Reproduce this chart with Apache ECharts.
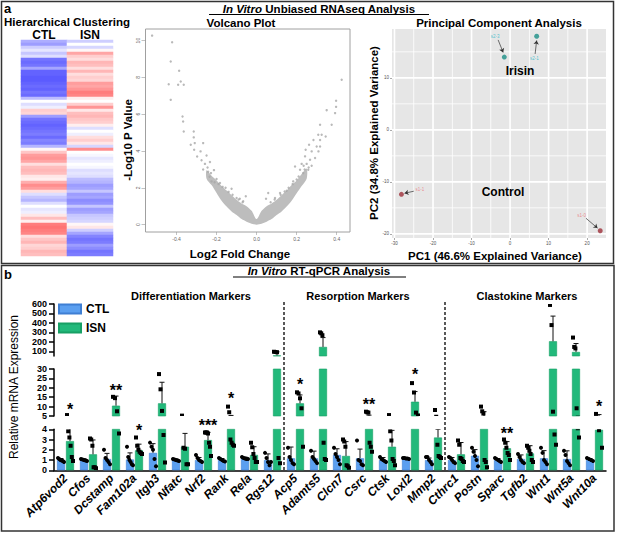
<!DOCTYPE html>
<html>
<head>
<meta charset="utf-8">
<script src="https://cdn.jsdelivr.net/npm/echarts@6/dist/echarts.min.js"></script>
<style>
  html, body { margin: 0; padding: 0; background: #fff; }
  #main { width: 617px; height: 534px; }
</style>
</head>
<body>
<div id="main"></div>
<script>
const FONT = 'Liberation Sans, Arial, sans-serif'

// ---- a: hierarchical clustering (row z-scores, top to bottom)
const heatCols = ['CTL', 'ISN']
const heatCTL = [-0.5, -0.6, -0.3, -0.15, -0.35, -0.2, -0.85, -0.9, -0.85, -0.55,
  -0.95, -0.95, -1, -1, -0.95, -0.9, -0.95, -0.85, -0.9, -0.4,
  0, -0.2, -0.1, 0.3, 0.25, -0.6, -0.85, -0.9, -0.95, -0.9,
  -0.85, -0.8, -0.9, -0.75, -0.8, -0.45, 0.05, 0.35, 0.6, 0.65,
  0.55, 0.2, 0.4, 0.45, 0.4, 0.15, 0.1, 0.5, 0.7, 0.6,
  0.2, -0.2, -0.35, -0.45, -0.2, 0, -0.15, -0.1, 0.15, 0.4,
  0.1, 0.8, 0.85, 0.8, 0.75, 0.2, 0.35, 0.45, 0.25, 0.3,
  0.45, 0.4]
const heatISN = [-0.3, 0, -0.25, 0.05, 0.55, 0.3, 0.2, 0.45, 0.4, 0.2,
  0.45, 0.2, 0.3, 0.25, 0.6, 0.55, 0.65, 0.8, 0.75, 0.1,
  0, 0.3, 0.65, 0.15, 0.4, 0.45, 0.35, 0.3, 0.1, -0.2,
  0, -0.1, 0.2, 0.3, 0.15, -0.25, 0.7, 0, -0.05, -0.15,
  -0.1, 0, -0.05, -0.2, -0.15, -0.2, -0.4, -0.45, -0.6, -0.55,
  -0.35, -0.6, -0.55, -0.7, -0.65, -0.35, -0.6, -0.55, -0.35, -0.3,
  -0.25, 0.05, 0.15, -0.3, -0.55, -0.75, -0.85, -0.8, -0.6, -0.7,
  -0.85, -0.8]

// ---- a: volcano plot
const volcanoXTicks = [-0.4, -0.2, 0, 0.2, 0.4]
const volcanoYTicks = [0, 2, 4, 6, 8, 10]
// dense cloud outline
const bandX = [-0.25, -0.225, -0.2, -0.175, -0.15, -0.125, -0.1, -0.075, -0.05, -0.025, 0,
  0.025, 0.05, 0.075, 0.1, 0.125, 0.15, 0.175, 0.2, 0.225, 0.25]
const bandTop = [2.95, 2.65, 2.4, 2.1, 1.85, 1.6, 1.35, 1.15, 1.0, 0.75, 0.3,
  0.75, 1.0, 1.15, 1.35, 1.6, 1.85, 2.15, 2.4, 2.75, 3.05]
const bandBottom = [2.5, 2.15, 1.72, 1.3, 0.98, 0.72, 0.52, 0.3, 0.16, 0.05, 0,
  0.05, 0.16, 0.3, 0.52, 0.72, 0.98, 1.3, 1.7, 2.1, 2.5]
const volcanoPoints = [
  [-0.522, 10.27], [-0.422, 9.91], [-0.429, 8.86], [-0.387, 8.36], [-0.439, 7.63], [-0.392, 7.6],
  [-0.379, 7.78], [-0.364, 7.6], [-0.429, 6.78], [-0.37, 5.88], [-0.367, 5.6], [-0.364, 5.06],
  [-0.314, 5.06], [-0.314, 4.74], [-0.329, 4.34], [-0.309, 4.43], [-0.267, 4.43], [-0.312, 4.07],
  [-0.28, 3.98], [-0.297, 3.7], [-0.25, 3.76], [-0.275, 3.5], [-0.258, 3.3], [-0.233, 3.4],
  [-0.267, 3.0], [-0.242, 2.87], [-0.213, 2.96], [-0.2, 2.48], [-0.225, 2.35], [-0.183, 2.26],
  [-0.125, 1.95], [-0.084, 1.41], [-0.054, 1.54], [-0.067, 1.27],
  [-0.235, 2.6], [-0.21, 2.3], [-0.19, 2.2], [-0.17, 2.05], [-0.155, 2.0], [-0.14, 1.78],
  [-0.12, 1.62], [-0.1, 1.45], [-0.09, 1.36], [-0.07, 1.22], [-0.245, 3.1], [-0.228, 2.8],
  [0.35, 6.22], [0.425, 7.87], [0.397, 6.73], [0.397, 6.4], [0.392, 6.06], [0.375, 5.43],
  [0.317, 5.43], [0.308, 4.88], [0.325, 4.88], [0.345, 4.79], [0.317, 4.6], [0.284, 4.6],
  [0.262, 4.34], [0.3, 4.25], [0.317, 4.25], [0.245, 4.07], [0.275, 3.98], [0.309, 3.98],
  [0.242, 3.71], [0.292, 3.62], [0.267, 3.53], [0.225, 3.3], [0.192, 3.16], [0.25, 3.3],
  [0.275, 3.2], [0.258, 2.98], [0.233, 2.8], [0.217, 2.98], [0.183, 2.35],
  [0.058, 1.72], [0.047, 1.41], [0.092, 1.45], [0.117, 1.72], [0.15, 1.84],
  [0.07, 1.22], [0.09, 1.36], [0.12, 1.62], [0.14, 1.8], [0.16, 2.0], [0.18, 2.2],
  [0.2, 2.45], [0.21, 2.62], [0.24, 3.0], [0.26, 3.1], [0.235, 3.2]
]

// ---- a: PCA
const pcaXRange = [-30.65, 24.9]
const pcaYRange = [-20.8, 19.4]
const pcaXMajor = [-30, -20, -10, 0, 10, 20]
const pcaXMinor = [-25, -15, -5, 5, 15]
const pcaYMajor = [-20, -10, 0, 10]
const pcaYMinor = [-15, -5, 5, 15]
const pcaIrisin = [[-1.5, 14.0], [6.9, 18.0]]
const pcaControl = [[-28.2, -12.4], [23.4, -19.4]]
const pcaLabels = [[-3.9, 17.9, 's2-3'], [6.3, 13.8, 's2-1'], [-23.4, -11.5, 's1-1'], [18.6, -16.4, 's1-0']]
const pcaArrows = [
  [[-3.1, 17.3], [-1.8, 14.9]],
  [[6.5, 14.6], [6.9, 17.2]],
  [[-25.0, -11.8], [-27.4, -12.2]],
  [[19.7, -17.0], [22.7, -18.9]]
]

// ---- b: RT-qPCR
const genes = ['Atp6vod2', 'Cfos', 'Dcstamp', 'Fam102a', 'Itgb3', 'Nfatc', 'Nrf2', 'Rank', 'Rela', 'Rgs12',
  'Acp5', 'Adamts5', 'Clcn7', 'Csrc', 'Ctsk', 'Loxl2', 'Mmp2',
  'Cthrc1', 'Postn', 'Sparc', 'Tgfb2', 'Wnt1', 'Wnt5a', 'Wnt10a']
const ctlMean = [1.0, 1.0, 1.1, 1.05, 1.7, 1.0, 1.0, 1.0, 1.17, 1.0, 1.17, 1.17, 1.5, 1.17, 1.0, 1.17, 1.0,
  1.0, 1.42, 1.0, 1.1, 1.17, 1.1, 1.0]
const ctlErr = [0.15, 0.12, 0.55, 0.65, 0.9, 0.1, 0.25, 0.15, 0.12, 0.6, 1.1, 0.7, 0.6, 0.9, 0.25, 0.05, 0.2,
  0.25, 0.6, 0.15, 0.4, 0.75, 0.8, 0.15]
const ctlPoints = [
  [1.2, 1.1, 1.0, 0.95, 0.9, 0.8], [1.1, 1.05, 1.0, 0.95, 0.9], [2.0, 1.2, 1.0, 0.8, 0.6],
  [2.3, 1.3, 1.0, 0.8, 0.6, 0.5], [2.7, 2.3, 2.0, 1.1, 0.4], [1.1, 1.05, 1.0, 0.95, 0.9],
  [1.5, 1.2, 1.0, 0.9, 0.8], [1.2, 1.1, 1.0, 0.9, 0.85], [1.3, 1.2, 1.15, 1.1, 1.1],
  [1.7, 1.2, 0.8, 0.5, 0.8], [2.2, 1.3, 1.0, 0.7, 0.6], [1.9, 1.3, 1.1, 0.9, 0.7],
  [2.2, 1.6, 1.3, 1.0, 0.6], [2.9, 1.0, 0.9, 0.6, 0.5], [1.3, 1.1, 1.0, 0.9, 0.8],
  [1.2, 1.2, 1.15, 1.15, 1.1], [1.3, 1.3, 1.0, 0.8, 0.6], [1.3, 1.2, 1.0, 0.8, 0.7],
  [2.2, 1.8, 1.4, 1.0, 0.4], [1.2, 1.1, 1.0, 0.9, 0.8], [1.6, 1.3, 1.0, 0.8, 0.7],
  [2.2, 1.7, 1.0, 0.8, 0.6], [1.9, 1.5, 0.9, 0.7, 0.5], [1.2, 1.1, 1.0, 0.9]
]
const isnMean = [2.85, 1.56, 10.5, 1.95, 11.75, 2.3, 2.95, 4.6, 1.5, 56, 11.75, 146, 1.4, 4.65, 2.3, 12.6, 3.2,
  1.56, 4.5, 2.15, 1.65, 206, 93, 3.95]
const isnErr = [1.75, 1.4, 5.1, 0.6, 11.2, 1.3, 0.75, 0.7, 0.8, 38, 4.45, 99, 1.4, 0.8, 1.6, 5.4, 0.8,
  1.15, 2.8, 0.65, 0.75, 266, 89, 1.8]
const isnPoints = [
  [5.5, 3.8, 3.2, 2.4, 1.3, 0.9], [3.1, 3.0, 2.4, 0.3, 0.3, 0.2], [15.2, 14.5, 7.5, 3.6],
  [3.2, 2.4, 2.0, 1.8, 1.7, 1.6], [27.3, 19.2, 7.7, 3.45, 0.75], [5.2, 2.2, 2.1, 0.6, 0.6],
  [3.7, 3.7, 3.7, 3.6, 2.7, 2.3, 1.4], [10.0, 7.0, 3.0, 2.7, 2.5, 2.4], [2.7, 2.25, 1.6, 1.2, 0.8, 0.8],
  [95, 92, 90, 1.2, 0.7], [17.6, 17.0, 14.4, 9.1, 2.3], [300, 290, 270, 2.7, 1.1, 1.0],
  [3.0, 2.8, 2.3, 0.5, 0.4, 0.25], [7.3, 7.0, 6.8, 2.7, 2.3, 1.8], [5.5, 3.8, 2.9, 1.1, 0.9, 0.5],
  [22.5, 17.5, 6.8, 5.3], [8.2, 4.6, 2.5, 1.4, 1.3, 1.2], [2.9, 2.5, 1.2, 1.1, 0.9, 0.8],
  [10.0, 7.5, 6.3, 1.0, 0.8, 0.3], [3.0, 2.7, 2.2, 1.7, 1.5, 1.0], [2.4, 2.2, 1.9, 1.6, 1.0, 0.8],
  [590, 377, 7.3, 3.5, 2.5], [245, 146, 130, 9.1, 4.1, 3.2], [6.1, 3.9, 2.2]
]
// significance marks: gene, text, axis segment, value on that segment
const stars = [
  ['Atp6vod2', '*', 'mid', 10.3], ['Dcstamp', '**', 'mid', 19.9], ['Fam102a', '*', 'low', 4.13],
  ['Nrf2', '***', 'low', 4.64], ['Rank', '*', 'mid', 15.8], ['Acp5', '*', 'mid', 23.2],
  ['Csrc', '**', 'mid', 12.6], ['Loxl2', '*', 'mid', 28.6], ['Sparc', '**', 'low', 3.93],
  ['Wnt10a', '*', 'mid', 11.75]
]
// broken y axis: tick labels of each segment
const topTicks = [100, 200, 300, 400, 500, 600]
const midTicks = [5, 10, 15, 20, 25, 30]
const lowTicks = [0, 1, 2, 3, 4]

const CTL_COLOR = '#5b9ff0'
const ISN_COLOR = '#22b97b'

const chart = echarts.init(document.getElementById('main'), null, { renderer: 'svg' })

// heatmap rows
const heatRows = heatCTL.map((_, i) => i)
const heatData = []
heatCTL.forEach((v, i) => heatData.push([0, i, v]))
heatISN.forEach((v, i) => heatData.push([1, i, v]))

// draw individual replicates + SD whisker for one group
const dotsRender = (points, side, square) => (params, api) => {
  const i = api.value(0)
  const mean = api.value(1)
  const err = api.value(2)
  const cx = api.coord([i, 0])[0] + side * 4.5
  const y0 = api.coord([i, mean])[1]
  const y1 = api.coord([i, mean + err])[1]
  const children = [
    { type: 'line', shape: { x1: cx, y1: y0, x2: cx, y2: y1 }, style: { stroke: '#111', lineWidth: 1 } },
    { type: 'line', shape: { x1: cx - 2.5, y1: y1, x2: cx + 2.5, y2: y1 }, style: { stroke: '#111', lineWidth: 1 } }
  ]
  const pts = points[i]
  const n = pts.length
  pts.forEach((v, j) => {
    const y = api.coord([i, v])[1]
    const x = cx + (n > 1 ? -3 + (6 * j) / (n - 1) : 0)
    if (square) {
      children.push({ type: 'rect', shape: { x: x - 2, y: y - 2, width: 4, height: 4 }, style: { fill: '#000' } })
    } else {
      children.push({ type: 'circle', shape: { cx: x, cy: y, r: 2 }, style: { fill: '#000' } })
    }
  })
  return { type: 'group', children }
}

const starRender = key => (params, api) => {
  const p = api.coord([api.value(0), api.value(1)])
  return {
    type: 'text',
    style: {
      x: p[0] + 4.5, y: p[1] + 3, text: stars.filter(s => s[2] === key)[params.dataIndex][1],
      font: 'bold 16px ' + FONT, fill: '#000', align: 'center', verticalAlign: 'middle'
    }
  }
}

// y tick labels of a broken-axis segment, drawn left of the axis line
const tickLabelRender = (params, api) => {
  const v = api.value(1)
  const p = api.coord([0, v])
  const x = p[0] - api.size([1, 0])[0] / 2 - 7
  return {
    type: 'text',
    style: { x, y: p[1], text: String(v), font: 'bold 9px ' + FONT, fill: '#000', align: 'right', verticalAlign: 'middle' }
  }
}

// ggplot-like panel: grey background + white grid lines
const pcaPanelRender = (params, api) => {
  if (params.dataIndex !== 0) return null
  const tl = api.coord([pcaXRange[0], pcaYRange[1]])
  const br = api.coord([pcaXRange[1], pcaYRange[0]])
  const children = [{ type: 'rect', shape: { x: tl[0], y: tl[1], width: br[0] - tl[0], height: br[1] - tl[1] }, style: { fill: '#e6e6e6' } }]
  const vline = (v, w) => {
    const x = api.coord([v, 0])[0]
    children.push({ type: 'rect', shape: { x: x - w / 2, y: tl[1], width: w, height: br[1] - tl[1] }, style: { fill: '#ffffff' } })
  }
  const hline = (v, w) => {
    const y = api.coord([0, v])[1]
    children.push({ type: 'rect', shape: { x: tl[0], y: y - w / 2, width: br[0] - tl[0], height: w }, style: { fill: '#ffffff' } })
  }
  pcaXMinor.forEach(v => vline(v, 0.8))
  pcaYMinor.forEach(v => hline(v, 0.8))
  pcaXMajor.forEach(v => vline(v, 1.6))
  pcaYMajor.forEach(v => hline(v, 1.6))
  return { type: 'group', children }
}

const segs = [
  { grid: 3, key: 'top', ticks: topTicks },
  { grid: 4, key: 'mid', ticks: midTicks },
  { grid: 5, key: 'low', ticks: lowTicks }
]

const barSeries = []
segs.forEach(s => {
  barSeries.push({
    name: 'CTL', type: 'bar', xAxisIndex: s.grid, yAxisIndex: s.grid, data: ctlMean,
    barWidth: 8, barGap: '12.5%', clip: true, z: 2,
    itemStyle: { color: CTL_COLOR, borderColor: '#3f7fd3', borderWidth: 0.6 }
  })
  barSeries.push({
    name: 'ISN', type: 'bar', xAxisIndex: s.grid, yAxisIndex: s.grid, data: isnMean,
    barWidth: 8, barGap: '12.5%', clip: true, z: 2,
    itemStyle: { color: ISN_COLOR, borderColor: '#17a065', borderWidth: 0.6 }
  })
  barSeries.push({
    name: 'CTL points', type: 'custom', xAxisIndex: s.grid, yAxisIndex: s.grid, clip: true, z: 4,
    data: genes.map((g, i) => [i, ctlMean[i], ctlErr[i]]),
    renderItem: dotsRender(ctlPoints, -1, false)
  })
  barSeries.push({
    name: 'ISN points', type: 'custom', xAxisIndex: s.grid, yAxisIndex: s.grid, clip: true, z: 4,
    data: genes.map((g, i) => [i, isnMean[i], isnErr[i]]),
    renderItem: dotsRender(isnPoints, 1, true)
  })
  barSeries.push({
    name: 'stars ' + s.key, type: 'custom', xAxisIndex: s.grid, yAxisIndex: s.grid, clip: false, z: 5,
    data: stars.filter(t => t[2] === s.key).map(t => [genes.indexOf(t[0]), t[3]]),
    renderItem: starRender(s.key)
  })
  barSeries.push({
    name: 'ticks ' + s.key, type: 'custom', xAxisIndex: s.grid, yAxisIndex: s.grid, clip: false, z: 5, silent: true,
    data: s.ticks.map(v => [0, v]),
    renderItem: tickLabelRender
  })
})

const hiddenCat = idx => ({
  type: 'category', gridIndex: idx, data: genes, show: false
})

const segAxis = (idx, min, max, ticks) => ({
  type: 'value', gridIndex: idx, min, max,
  axisLine: { show: true, onZero: false, lineStyle: { color: '#000', width: 1.5 } }, splitLine: { show: false },
  axisTick: { show: true, customValues: ticks, length: 5, lineStyle: { color: '#000', width: 1.5 } },
  axisLabel: { show: false }
})

const option = {
  animation: false,
  textStyle: { fontFamily: FONT },
  grid: [
    { left: 21, top: 40, width: 92, height: 216 },
    { left: 145.5, top: 29, width: 204.5, height: 203, show: true, borderColor: '#a0a0a0', borderWidth: 1 },
    { left: 392, top: 29, width: 214, height: 209 },
    { left: 54, top: 304, width: 552, height: 52 },
    { left: 54, top: 369, width: 552, height: 47 },
    { left: 54, top: 429.3, width: 552, height: 41 }
  ],
  legend: {
    data: ['CTL', 'ISN'], orient: 'vertical', left: 58, top: 303, padding: 0,
    itemWidth: 22, itemHeight: 9, itemGap: 7, icon: 'rect',
    textStyle: { fontWeight: 'bold', fontSize: 12, color: '#000', fontFamily: FONT }
  },
  visualMap: {
    type: 'continuous', min: -1, max: 1, dimension: 2, seriesIndex: 0, show: false,
    inRange: { color: ['#5b5bff', '#ffffff', '#ff5c5c'] }
  },
  xAxis: [
    {
      type: 'category', gridIndex: 0, data: heatCols, position: 'top',
      axisLine: { show: false }, axisTick: { show: false },
      axisLabel: { fontWeight: 'bold', fontSize: 12, color: '#000', margin: -1 }
    },
    {
      type: 'value', gridIndex: 1, min: -0.555, max: 0.4665,
      axisLine: { show: false, onZero: false }, splitLine: { show: false },
      axisTick: { show: true, customValues: volcanoXTicks, length: 3, lineStyle: { color: '#999', width: 0.6 } },
      axisLabel: { customValues: volcanoXTicks, fontSize: 5, color: '#666', margin: 4, formatter: v => v.toFixed(1) }
    },
    {
      type: 'value', gridIndex: 2, min: pcaXRange[0], max: pcaXRange[1],
      axisLine: { show: false, onZero: false }, splitLine: { show: false },
      axisTick: { show: true, customValues: pcaXMajor, length: 2, lineStyle: { color: '#555', width: 0.5 } },
      axisLabel: { customValues: pcaXMajor, fontSize: 4.5, color: '#555', margin: 3 }
    },
    hiddenCat(3),
    hiddenCat(4),
    {
      type: 'category', gridIndex: 5, data: genes,
      axisLine: { onZero: false, lineStyle: { color: '#000', width: 1.5 } },
      axisTick: { alignWithLabel: true, length: 4, lineStyle: { color: '#000', width: 1.5 } },
      axisLabel: { rotate: 45, fontStyle: 'italic', fontWeight: 'bold', fontSize: 12, color: '#000', margin: 6, interval: 0 }
    }
  ],
  yAxis: [
    { type: 'category', gridIndex: 0, data: heatRows, inverse: true, show: false },
    {
      type: 'value', gridIndex: 1, min: -0.4, max: 10.63,
      axisLine: { show: false, onZero: false }, splitLine: { show: false },
      axisTick: { show: true, customValues: volcanoYTicks, length: 4, lineStyle: { color: '#999', width: 0.6 } },
      axisLabel: { customValues: volcanoYTicks, fontSize: 5, color: '#666', margin: 5, rotate: 90 }
    },
    {
      type: 'value', gridIndex: 2, min: pcaYRange[0], max: pcaYRange[1],
      axisLine: { show: false, onZero: false }, splitLine: { show: false },
      axisTick: { show: true, customValues: pcaYMajor, length: 2, lineStyle: { color: '#555', width: 0.5 } },
      axisLabel: { customValues: pcaYMajor, fontSize: 4.5, color: '#555', margin: 3 }
    },
    segAxis(3, 50, 600, topTicks),
    segAxis(4, 5, 30, midTicks),
    segAxis(5, 0, 4, lowTicks)
  ],
  series: [
    {
      name: 'heatmap', type: 'heatmap', xAxisIndex: 0, yAxisIndex: 0, data: heatData,
      itemStyle: { borderWidth: 0 }
    },
    {
      name: 'volcano cloud', type: 'custom', xAxisIndex: 1, yAxisIndex: 1, z: 2,
      data: bandX.map((x, i) => [x, bandTop[i], bandBottom[i]]),
      renderItem: (params, api) => {
        if (params.dataIndex !== 0) return null
        const pts = []
        bandX.forEach((x, i) => pts.push(api.coord([x, bandTop[i]])))
        for (let i = bandX.length - 1; i >= 0; i--) pts.push(api.coord([bandX[i], bandBottom[i]]))
        return { type: 'polygon', shape: { points: pts, smooth: 0.3 }, style: { fill: '#bdbdbd' } }
      }
    },
    {
      name: 'volcano', type: 'scatter', xAxisIndex: 1, yAxisIndex: 1, z: 3,
      data: volcanoPoints, symbolSize: 2.4, itemStyle: { color: '#a8a8a8' }
    },
    {
      name: 'pca panel', type: 'custom', xAxisIndex: 2, yAxisIndex: 2, z: 1, silent: true,
      data: [[0, 0]], renderItem: pcaPanelRender
    },
    {
      name: 'pca arrows', type: 'scatter', xAxisIndex: 2, yAxisIndex: 2, data: [], z: 3,
      markLine: {
        silent: true, symbol: ['none', 'arrow'], symbolSize: 4, label: { show: false }, animation: false,
        lineStyle: { color: '#333', width: 0.7, type: 'solid' },
        data: pcaArrows.map(a => [{ coord: a[0] }, { coord: a[1] }])
      }
    },
    {
      name: 'Irisin', type: 'scatter', xAxisIndex: 2, yAxisIndex: 2, z: 4,
      data: pcaIrisin, symbolSize: 5, itemStyle: { color: '#1b8f86' }
    },
    {
      name: 'Control', type: 'scatter', xAxisIndex: 2, yAxisIndex: 2, z: 4,
      data: pcaControl, symbolSize: 5, itemStyle: { color: '#9e2f3a' }
    },
    {
      name: 'pca labels', type: 'scatter', xAxisIndex: 2, yAxisIndex: 2, z: 4,
      symbolSize: 1, itemStyle: { color: 'transparent' },
      data: pcaLabels.map(l => ({
        value: l,
        label: { color: l[2].startsWith('s2') ? '#2bb6c6' : '#e8747a' }
      })),
      label: { show: true, position: 'inside', fontSize: 4.5, formatter: p => p.value[2] }
    },
    ...barSeries
  ],
  graphic: [
    { type: 'rect', shape: { x: 1.5, y: 1.5, width: 612, height: 262 }, style: { fill: 'none', stroke: '#333', lineWidth: 1.5 }, silent: true },
    { type: 'rect', shape: { x: 1.5, y: 265.5, width: 612.5, height: 265.5 }, style: { fill: 'none', stroke: '#333', lineWidth: 1.5 }, silent: true },
    { type: 'text', x: 4, y: 2, style: { text: 'a', font: 'bold 13px ' + FONT, fill: '#000', verticalAlign: 'top' } },
    { type: 'text', x: 4, y: 268, style: { text: 'b', font: 'bold 13px ' + FONT, fill: '#000', verticalAlign: 'top' } },
    {
      type: 'text', x: 319, y: 8.5,
      style: {
        text: '{i|In Vitro} Unbiased RNAseq Analysis', font: 'bold 11.5px ' + FONT, fill: '#000', align: 'center', verticalAlign: 'middle',
        rich: { i: { fontStyle: 'italic', fontWeight: 'bold', fontSize: 11.5, fontFamily: FONT } }
      }
    },
    { type: 'line', shape: { x1: 209, y1: 14.5, x2: 429, y2: 14.5 }, style: { stroke: '#000', lineWidth: 1.2 } },
    {
      type: 'text', x: 319, y: 271,
      style: {
        text: '{i|In Vitro} RT-qPCR Analysis', font: 'bold 11.5px ' + FONT, fill: '#000', align: 'center', verticalAlign: 'middle',
        rich: { i: { fontStyle: 'italic', fontWeight: 'bold', fontSize: 11.5, fontFamily: FONT } }
      }
    },
    { type: 'line', shape: { x1: 233, y1: 277, x2: 406, y2: 277 }, style: { stroke: '#000', lineWidth: 1.2 } },
    { type: 'text', x: 67, y: 22, style: { text: 'Hierarchical Clustering', font: 'bold 11.5px ' + FONT, fill: '#000', align: 'center', verticalAlign: 'middle' } },
    { type: 'text', x: 241, y: 22.5, style: { text: 'Volcano Plot', font: 'bold 11.5px ' + FONT, fill: '#000', align: 'center', verticalAlign: 'middle' } },
    { type: 'text', x: 240, y: 254, style: { text: 'Log2 Fold Change', font: 'bold 11.5px ' + FONT, fill: '#000', align: 'center', verticalAlign: 'middle' } },
    { type: 'text', x: 128, y: 140, rotation: Math.PI / 2, style: { text: '-Log10 P Value', font: 'bold 11.5px ' + FONT, fill: '#000', align: 'center', verticalAlign: 'middle' } },
    { type: 'text', x: 499, y: 22.5, style: { text: 'Principal Component Analysis', font: 'bold 11.5px ' + FONT, fill: '#000', align: 'center', verticalAlign: 'middle' } },
    { type: 'text', x: 495, y: 256, style: { text: 'PC1 (46.6% Explained Variance)', font: 'bold 11.5px ' + FONT, fill: '#000', align: 'center', verticalAlign: 'middle' } },
    { type: 'text', x: 374, y: 133, rotation: Math.PI / 2, style: { text: 'PC2 (34.8% Explained Variance)', font: 'bold 11.5px ' + FONT, fill: '#000', align: 'center', verticalAlign: 'middle' } },
    { type: 'text', x: 520, y: 71, z: 10, style: { text: 'Irisin', font: 'bold 12px ' + FONT, fill: '#000', align: 'center', verticalAlign: 'middle' } },
    { type: 'text', x: 503, y: 192, z: 10, style: { text: 'Control', font: 'bold 12px ' + FONT, fill: '#000', align: 'center', verticalAlign: 'middle' } },
    { type: 'text', x: 191, y: 296, style: { text: 'Differentiation Markers', font: 'bold 11px ' + FONT, fill: '#000', align: 'center', verticalAlign: 'middle' } },
    { type: 'text', x: 358, y: 296, style: { text: 'Resorption Markers', font: 'bold 11px ' + FONT, fill: '#000', align: 'center', verticalAlign: 'middle' } },
    { type: 'text', x: 527, y: 296, style: { text: 'Clastokine Markers', font: 'bold 11px ' + FONT, fill: '#000', align: 'center', verticalAlign: 'middle' } },
    { type: 'text', x: 14, y: 387, rotation: Math.PI / 2, style: { text: 'Relative mRNA Expression', font: '12px ' + FONT, fill: '#000', align: 'center', verticalAlign: 'middle' } },
    // group separators
    { type: 'line', shape: { x1: 284, y1: 302, x2: 284, y2: 470 }, style: { stroke: '#000', lineWidth: 1.3, lineDash: [3, 2] } },
    { type: 'line', shape: { x1: 445, y1: 302, x2: 445, y2: 470 }, style: { stroke: '#000', lineWidth: 1.3, lineDash: [3, 2] } }
  ]
}

chart.setOption(option)
</script>
</body>
</html>
